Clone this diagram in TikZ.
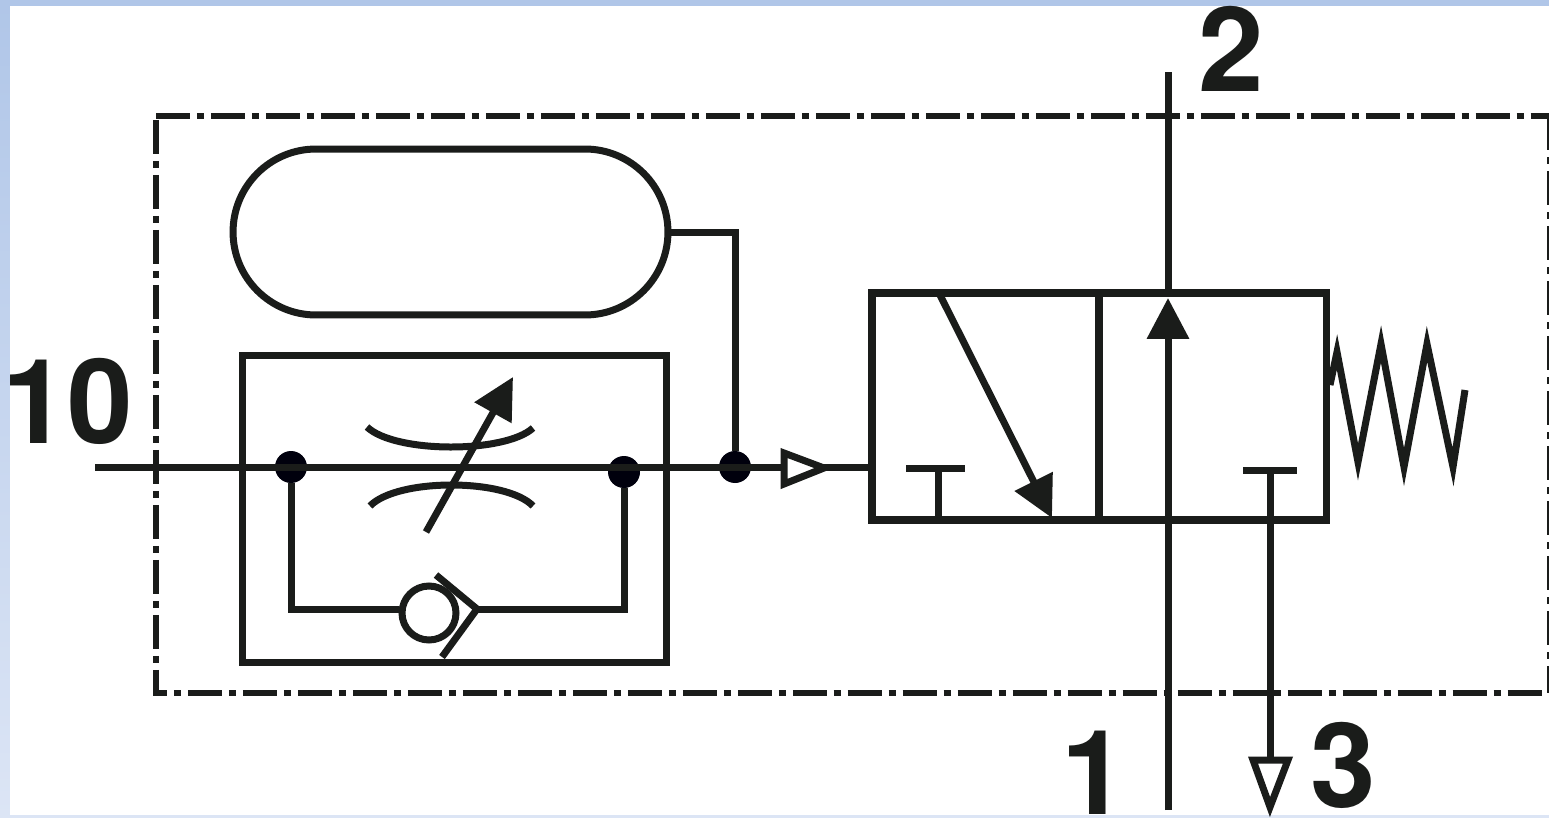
\documentclass[tikz,border=0pt]{standalone}
\usepackage{fontspec}
\setmainfont{TeX Gyre Heros}
\usetikzlibrary{arrows.meta}
\definecolor{ink}{HTML}{1A1C1A}
\definecolor{bandtop}{HTML}{B0C6E8}
\definecolor{bandlow}{HTML}{DCE5F5}
\tikzset{
    pipe/.style={ink,line width=0.14cm},
    portlabel/.style={ink,inner sep=0pt,font=\fontsize{67}{67}\selectfont\bfseries},
    junction/.style={circle,fill=black!95!blue,inner sep=0pt,minimum size=0.64cm},
    cell/.style={draw=ink,line width=0.15cm,minimum width=4.55cm,minimum height=4.54cm,inner sep=0pt},
    flow/.style={pipe,-{Triangle[length=0.82cm,width=0.82cm]}},
    opentip/.style={pipe,fill=white,line join=miter},
    frameline/.style={ink,line width=0.13cm,dash pattern=on 0.68cm off 0.14cm on 0.14cm off 0.14cm},
}
\begin{document}
\begin{tikzpicture}[x=0.02cm,y=-0.02cm]
    \useasboundingbox (0,0) rectangle (1549,818);
    % background
    \shade[top color=bandtop,bottom color=bandlow] (0,0) rectangle (1549,818);
    \fill[white] (10,6) rectangle (1549,815);
    % outer frame
    \draw[frameline] (156,116)--(1549,116);
    \draw[frameline,dash phase=1.02cm] (156,116)--(156,693)--(1549,693);
    \draw[frameline,line width=0.05cm] (1548.5,116)--(1548.5,693);
    % tank and throttle box
    \node[draw=ink,line width=0.14cm,rounded corners=1.66cm,minimum width=8.7cm,minimum height=3.32cm] (tank) at (450.5,232) {};
    \node[draw=ink,line width=0.14cm,minimum width=8.5cm,minimum height=6.16cm] (box) at (454.5,509) {};
    % main line
    \node[junction] (jleft) at (291,467) {};
    \node[junction] (jright) at (624,472) {};
    \node[junction] (jtank) at (735,467) {};
    \coordinate (inlet) at (95,467);
    \coordinate (vin) at (870,467);
    \draw[pipe] (inlet)--(vin);
    \draw[pipe] (tank.east)-|(jtank);
    % check valve branch
    \node[draw=ink,line width=0.14cm,circle,minimum size=1.08cm,inner sep=0pt] (ball) at (429,613) {};
    \coordinate (seat) at (477,609);
    \draw[pipe] (jleft)|-(ball.west|-0,609);
    \draw[pipe] (jright)|-(seat);
    \draw[pipe,line join=miter] (436,575)--(seat)--(442,657);
    % throttle
    \draw[pipe] (367,427) .. controls (395,453.5) and (505,453.5) .. (533,428);
    \draw[pipe] (370,506) .. controls (397,478) and (506,478) .. (533,506);
    \draw[flow] (426,532)--(513,377);
    % pilot tip
    \draw[opentip] (784,453)--(784,484)--(824,468)--cycle;
    % valve
    \node[cell] (vleft) at (985.5,406.5) {};
    \node[cell] (vright) at (1213,406.5) {};
    \draw[flow] (940,295)--(1052,518);
    \draw[pipe] (906,468)--(965,468);
    \draw[pipe] (938,468)--(938,520);
    \draw[pipe] (1168,72)--(1168,296);
    \draw[flow] (1168,810)--(1168,298);
    \draw[pipe] (1243,470)--(1297,470);
    \draw[pipe] (1270,470)--(1270,760);
    \draw[opentip] (1253,760)--(1288,760)--(1270,807)--cycle;
    % spring
    \draw[pipe,line join=miter,miter limit=10] (1330,385)--(1337,352)--(1358,462)--(1381,344)--(1404,467)--(1427,344)--(1453,467)--(1465,390);
    % port labels
    \node[portlabel] (p10) at (68,401) {10};
    \node[portlabel] (p2) at (1231,49) {2};
    \node[portlabel] (p1) at (1094,773) {1};
    \node[portlabel] (p3) at (1343,765) {3};
\end{tikzpicture}
\end{document}
